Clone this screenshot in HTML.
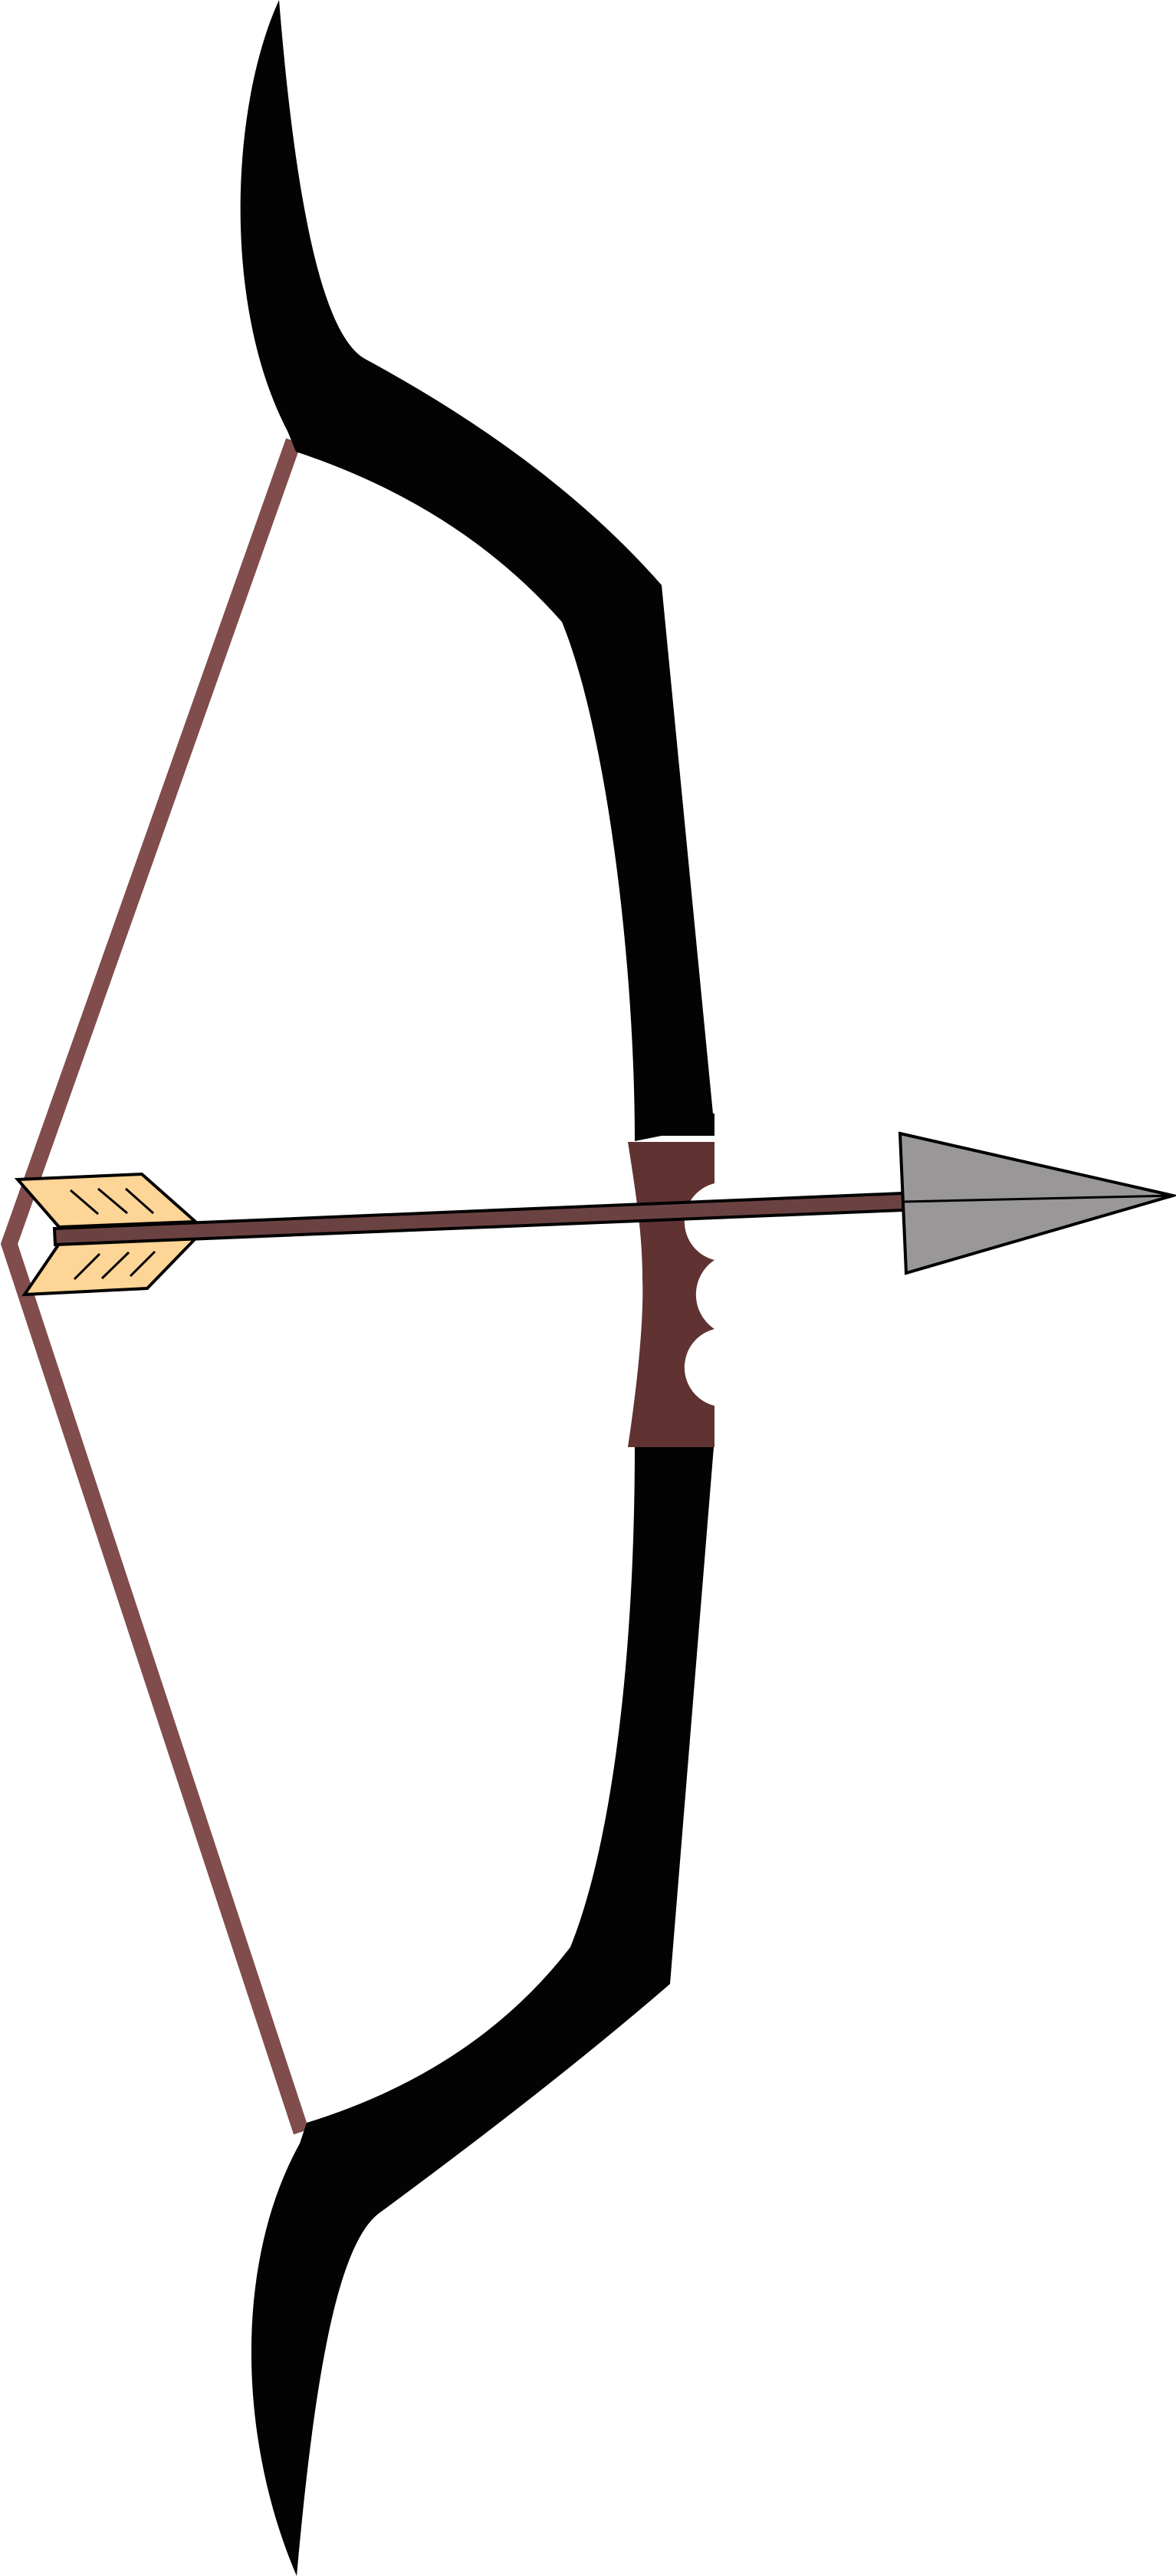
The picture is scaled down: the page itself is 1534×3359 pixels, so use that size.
<!DOCTYPE html>
<html><head><meta charset="utf-8"><title>Bow and Arrow</title>
<style>html,body{margin:0;padding:0;background:#fff;}svg{display:block;}</style></head>
<body>
<svg xmlns="http://www.w3.org/2000/svg" width="1534" height="3359" viewBox="0 0 1534 3359">
  <rect x="0" y="0" width="1534" height="3359" fill="#ffffff"/>
  <polyline points="383,575 12,1622 393,2780" fill="none" stroke="#804c4c" stroke-width="21" stroke-linejoin="miter" stroke-miterlimit="10"/>
  <path fill="#030303" d="M364,0 C385,260 420,440 478,469 Q720,600 863,763 L930,1452 L932,1452 L932,1481 L863,1481 L828,1488 C828,1250 790,950 733,811 Q600,660 386,589 L375,562 C290,400 300,140 364,0 Z"/>
  <path fill="#030303" d="M828,1887 L931,1887 L874,2587 Q720,2720 493,2887 C440,2930 410,3100 387,3359 C310,3180 305,2950 391,2795 L400,2768 Q620,2700 744,2539 C800,2400 828,2150 828,1887 Z"/>
  <path fill="#603232" d="M819,1489 L932,1489 L932,1543 A51.5,51.5 0 0 0 932,1643 A54,54 0 0 0 932,1733 A51.5,51.5 0 0 0 932,1833 L932,1887 L819,1887 C832,1800 840,1720 838,1667 C838,1610 830,1560 819,1489 Z"/>
  <g>
    <polygon points="23,1538 185,1531 255,1593 77,1600" fill="#fdd596" stroke="#000" stroke-width="4" stroke-linejoin="miter"/>
    <line x1="92" y1="1552" x2="128" y2="1583" stroke="#000" stroke-width="3"/>
    <line x1="128" y1="1550" x2="166" y2="1582" stroke="#000" stroke-width="3"/>
    <line x1="164" y1="1550" x2="200" y2="1582" stroke="#000" stroke-width="3"/>
  </g>
  <g>
    <polygon points="77,1622 255,1615 192,1680 32,1688" fill="#fdd596" stroke="#000" stroke-width="4" stroke-linejoin="miter"/>
    <line x1="97" y1="1668" x2="130" y2="1635" stroke="#000" stroke-width="3"/>
    <line x1="133" y1="1667" x2="168" y2="1633" stroke="#000" stroke-width="3"/>
    <line x1="170" y1="1664" x2="202" y2="1632" stroke="#000" stroke-width="3"/>
  </g>
  <polygon points="71,1602 1178,1556 1178,1578 72,1623" fill="#6b4242" stroke="#000" stroke-width="4"/>
  <g>
    <polygon points="1174,1478 1530,1559 1182,1660" fill="#999797" stroke="#000" stroke-width="4" stroke-linejoin="miter"/>
    <line x1="1178" y1="1567" x2="1528" y2="1559" stroke="#000" stroke-width="3"/>
  </g>
</svg>
</body></html>
